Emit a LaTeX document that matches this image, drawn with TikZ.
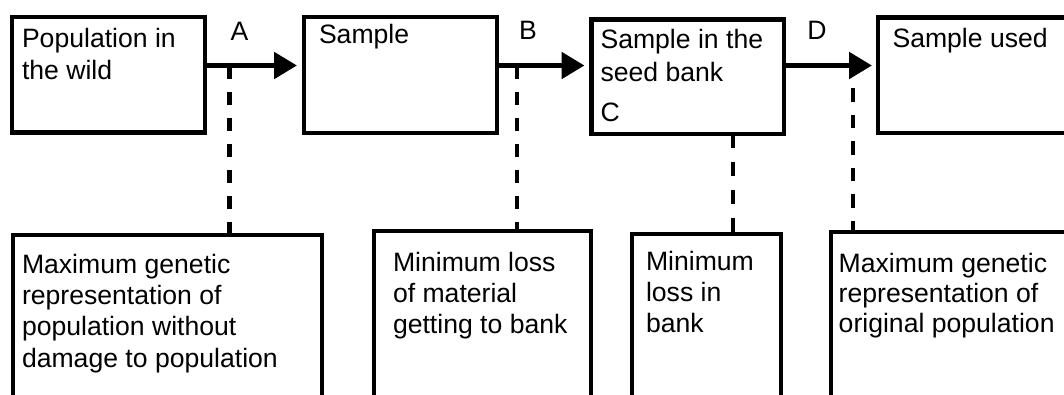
\documentclass[tikz,border=0pt]{standalone}
\usepackage{fontspec}
\setmainfont{Liberation Sans}
\usetikzlibrary{arrows.meta}
\tikzset{
  box/.style={draw, line width=4.8pt, inner sep=0pt, outer sep=0pt, anchor=north west},
  txt/.style={inner sep=0pt, outer sep=0pt, anchor=base west, align=left,
    font=\fontsize{26.6pt}{#1}\selectfont},
  txt/.default=31pt,
  lbl/.style={inner sep=0pt, outer sep=0pt, anchor=base,
    font=\fontsize{26.6pt}{31pt}\selectfont},
  flow/.style={line width=5.3pt, -{Triangle[length=23pt,width=26pt]}, shorten >=7pt},
  dashline/.style={line width=4.8pt, dash pattern=on 13pt off 13pt},
}
\begin{document}
\begin{tikzpicture}[x=1pt,y=-1pt]
\useasboundingbox (0,0) rectangle (1064,394);
\clip (0,0) rectangle (1064,394);
% top boxes
\node[box, minimum width=193pt, minimum height=115.7pt] (box1) at (12,17) {};
\node[box, minimum width=193pt, minimum height=116pt] (box2) at (304,17) {};
\node[box, minimum width=192.5pt, minimum height=114.5pt] (box3) at (591.5,19.5) {};
\node[box, minimum width=210pt, minimum height=115.2pt] (box4) at (878,17.8) {};
% bottom boxes
\node[box, minimum width=309pt, minimum height=180pt] (box5) at (13,235) {};
\node[box, minimum width=217pt, minimum height=180pt] (box6) at (374,231) {};
\node[box, minimum width=149pt, minimum height=180pt] (box7) at (632,234) {};
\node[box, minimum width=240pt, minimum height=180pt] (box8) at (831,232) {};
% texts (anchor base = baseline of the last line)
\node[txt=32pt] (t1) at (22,79) {Population in\\the wild};
\node[txt] (t2) at (319,43) {Sample};
\node[txt=33pt] (t3) at (600.5,81) {Sample in the\\seed bank};
\node[txt] (labC) at (600.5,121.7) {C};
\node[txt] (t4) at (892.5,47) {Sample used};
\node[txt=31.3pt] (t5) at (22,367) {Maximum genetic\\representation of\\population without\\damage to population};
\node[txt] (t6) at (393,333) {Minimum loss\\of material\\getting to bank};
\node[txt] (t7) at (646,332.5) {Minimum\\loss in\\bank};
\node[txt=29.8pt] (t8) at (838.7,332.5) {Maximum genetic\\representation of\\original population};
% labels
\node[lbl] (labA) at (239.5,40) {A};
\node[lbl] (labB) at (528,39.3) {B};
\node[lbl] (labD) at (817,39.3) {D};
% arrows
\coordinate (ya) at (0,65.5);
\draw[flow] (box1.east |- ya) -- (box2.west |- ya);
\draw[flow] (box2.east |- ya) -- (box3.west |- ya);
\draw[flow, shorten >=6pt] (box3.east |- ya) -- (box4.west |- ya);
% dashed links
\coordinate (dA) at (229.5,65.5);
\coordinate (dB) at (517,65.5);
\coordinate (dC) at (733,0);
\coordinate (dD) at (853,88);
\draw[dashline] (dA) -- (dA |- box5.north);
\draw[dashline] (dB) -- (dB |- box6.north);
\draw[dashline, dash pattern=on 14pt off 14pt] (box3.south -| dC) -- (box7.north -| dC);
\draw[dashline, dash pattern=on 13.5pt off 13pt] (dD) -- (dD |- box8.north);
\end{tikzpicture}
\end{document}
